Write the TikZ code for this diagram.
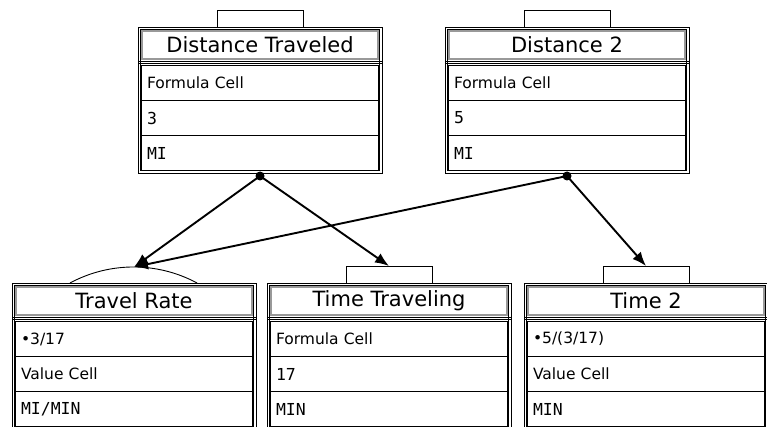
\documentclass[tikz,border=0pt]{standalone}
\usepackage{fontspec}
\setmainfont{DejaVu Sans}
\setmonofont{DejaVu Sans Mono}
\usetikzlibrary{positioning,arrows.meta}

\tikzset{
  cellframe/.style={draw=black, line width=0.7pt,
    minimum width=244, minimum height=146, inner sep=0, outer sep=0, anchor=north west},
  innerframe/.style={draw=black, line width=0.7pt,
    minimum width=239.5, minimum height=141.5, inner sep=0, outer sep=0},
  band/.style={draw=gray!80, line width=2pt,
    minimum width=236.5, minimum height=28.5, inner sep=0, font=\fontsize{21}{24}\selectfont},
  sep/.style={draw=black, line width=0.7pt},
  row/.style={draw, line width=1.6pt, minimum width=238, minimum height=35,
    text width=226, inner xsep=6, inner ysep=0, outer sep=0, align=left, anchor=north,
    font=\fontsize{15.5}{18}\selectfont},
  tab/.style={draw, line width=0.8pt, minimum width=86, minimum height=17, inner sep=0, outer sep=0},
  dotnode/.style={circle, fill, minimum size=9pt, inner sep=0},
  link/.style={line width=1.9pt, -{Latex[length=14pt,width=11pt]}}
}

% name, x, y, title, row 1, row 2, row 3
\newcommand{\cellbox}[7]{%
  \node[cellframe] (#1) at (#2,-#3) {};
  \node[innerframe] (#1-in) at (#1.center) {};
  \node[band] (#1-title) at ([yshift=-18]#1.north) {#4};
  \draw[sep] ([yshift=-34]#1.north west) -- ([yshift=-34]#1.north east);
  \draw[sep] ([yshift=-36.2]#1.north west) -- ([yshift=-36.2]#1.north east);
  \node[row] (#1-a) at ([yshift=-38.5]#1.north) {#5};
  \node[row, below=0pt of #1-a] (#1-b) {#6};
  \node[row, below=0pt of #1-b] (#1-c) {#7};
}
\newcommand{\mono}[1]{{\fontsize{16.5}{18}\ttfamily #1}}

\begin{document}
\begin{tikzpicture}[x=1pt,y=1pt]
  \useasboundingbox (0,0) rectangle (767,-427);

  % top row
  \cellbox{dist}{138}{27}{Distance Traveled}{Formula Cell}{\mono{3}}{\mono{MI}}
  \cellbox{distb}{445}{27}{Distance 2}{Formula Cell}{\mono{5}}{\mono{MI}}
  \node[tab, above=0pt of dist.north] (dist-tab) {};
  \node[tab, above=0pt of distb.north] (distb-tab) {};

  % bottom row
  \cellbox{rate}{12}{283}{Travel Rate}{•3/17}{Value Cell}{\mono{MI/MIN}}
  \cellbox{time}{267}{283}{Time Traveling}{Formula Cell}{\mono{17}}{\mono{MIN}}
  \cellbox{timeb}{524}{283}{Time 2}{•5/(3/17)}{Value Cell}{\mono{MIN}}
  \node[tab, above=0pt of time.north] (time-tab) {};
  \node[tab, above=0pt of timeb.north] (timeb-tab) {};
  \draw[line width=0.9pt] ([xshift=-64]rate.north) arc[start angle=118.3, end angle=61.7, radius=134];
  \coordinate (rate-top) at ([yshift=16]rate.north);

  % links
  \node[dotnode] (dist-dot) at ([yshift=-3]dist.south) {};
  \node[dotnode] (distb-dot) at ([yshift=-3]distb.south) {};
  \draw[link] (dist-dot.center) -- (rate-top);
  \draw[link] (dist-dot.center) -- (time-tab.north);
  \draw[link] (distb-dot.center) -- (rate-top);
  \draw[link] (distb-dot.center) -- (timeb-tab.north);
\end{tikzpicture}
\end{document}
